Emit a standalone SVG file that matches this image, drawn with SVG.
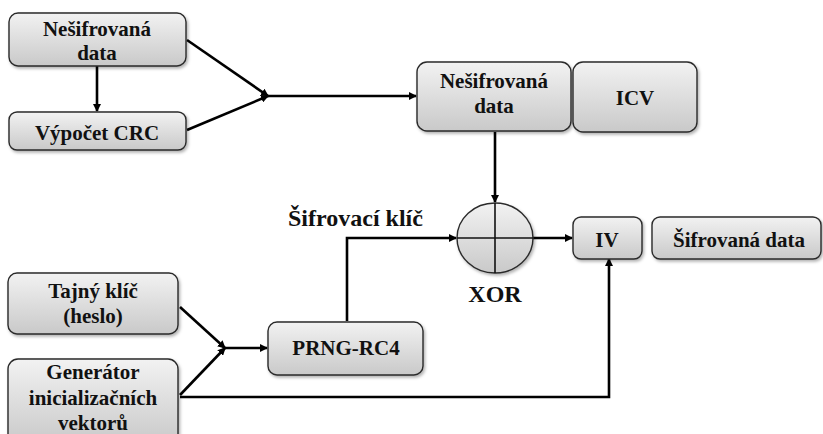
<svg xmlns="http://www.w3.org/2000/svg" width="823" height="434" viewBox="0 0 823 434">
<style>
.box{fill:url(#g);stroke:#2a2a2a;stroke-width:1.4;filter:url(#sh)}
.t{font-weight:700;font-size:21px;fill:#111;text-anchor:middle}
.lbl{font-weight:700;font-size:24px;fill:#111}
.c{fill:none;stroke:#000;stroke-width:2.6}
.x{fill:none;stroke:#111;stroke-width:1.6}
</style>
<defs>
<linearGradient id="g" x1="0" y1="0" x2="0" y2="1">
<stop offset="0" stop-color="#f2f2f2"/>
<stop offset="1" stop-color="#c9c9c9"/>
</linearGradient>
<filter id="sh" x="-10%" y="-10%" width="130%" height="140%">
<feDropShadow dx="1.5" dy="2" stdDeviation="1.5" flood-color="#000" flood-opacity="0.3"/>
</filter>
<marker id="a" markerWidth="8" markerHeight="8" refX="7" refY="4" orient="auto" markerUnits="userSpaceOnUse">
<path d="M0,0 L8,4 L0,8 Z" fill="#000"/>
</marker>
</defs>
<g id="connectors">
<line class="c" x1="97" y1="66" x2="97" y2="111" marker-end="url(#a)"/>
<line class="c" x1="187" y1="40" x2="268" y2="96" marker-end="url(#a)"/>
<line class="c" x1="187" y1="130" x2="268" y2="96" marker-end="url(#a)"/>
<line class="c" x1="268" y1="96" x2="416" y2="96" marker-end="url(#a)"/>
<line class="c" x1="495" y1="132" x2="495" y2="202" marker-end="url(#a)"/>
<polyline class="c" points="347,321 347,238 456,238" marker-end="url(#a)"/>
<line class="c" x1="533" y1="238" x2="572" y2="238" marker-end="url(#a)"/>
<line class="c" x1="180" y1="307" x2="225" y2="348" marker-end="url(#a)"/>
<line class="c" x1="180" y1="395" x2="225" y2="348" marker-end="url(#a)"/>
<line class="c" x1="225" y1="348" x2="267" y2="348" marker-end="url(#a)"/>
<polyline class="c" points="180,397 609,397 609,259" marker-end="url(#a)"/>
</g>
<g font-family="Liberation Serif, serif">
<g id="n1"><rect class="box" x="9" y="13" width="177" height="53" rx="9"/><text class="t" x="97" y="36">Nešifrovaná</text><text class="t" x="97" y="60">data</text></g>
<g id="n2"><rect class="box" x="9" y="112" width="177" height="38" rx="8"/><text class="t" x="97" y="140">Výpočet CRC</text></g>
<g id="n3"><rect class="box" x="417" y="62" width="154" height="69" rx="10"/><text class="t" x="494" y="88">Nešifrovaná</text><text class="t" x="494" y="113">data</text></g>
<g id="n4"><rect class="box" x="573" y="62" width="124" height="70" rx="10"/><text class="t" x="635" y="105">ICV</text></g>
<g id="xor"><ellipse class="box" cx="495" cy="238" rx="38" ry="35"/><line class="x" x1="495" y1="203" x2="495" y2="273"/><line class="x" x1="457" y1="238" x2="533" y2="238"/></g>
<g id="n5"><rect class="box" x="573" y="217" width="69" height="42" rx="8"/><text class="t" x="607" y="247">IV</text></g>
<g id="n6"><rect class="box" x="652" y="217" width="169" height="42" rx="8"/><text class="t" x="739" y="247">Šifrovaná data</text></g>
<g id="n7"><rect class="box" x="8" y="273" width="170" height="61" rx="9"/><text class="t" x="93" y="298">Tajný klíč</text><text class="t" x="93" y="323">(heslo)</text></g>
<g id="n8"><rect class="box" x="268" y="322" width="155" height="53" rx="9"/><text class="t" x="346" y="355">PRNG-RC4</text></g>
<g id="n9"><rect class="box" x="8" y="359" width="170" height="85" rx="10"/><text class="t" x="93" y="379">Generátor</text><text class="t" x="93" y="405">inicializačních</text><text class="t" x="93" y="430">vektorů</text></g>
<text class="lbl" x="288" y="226">Šifrovací klíč</text>
<text class="lbl" x="495" y="302" text-anchor="middle">XOR</text>
</g>
</svg>
